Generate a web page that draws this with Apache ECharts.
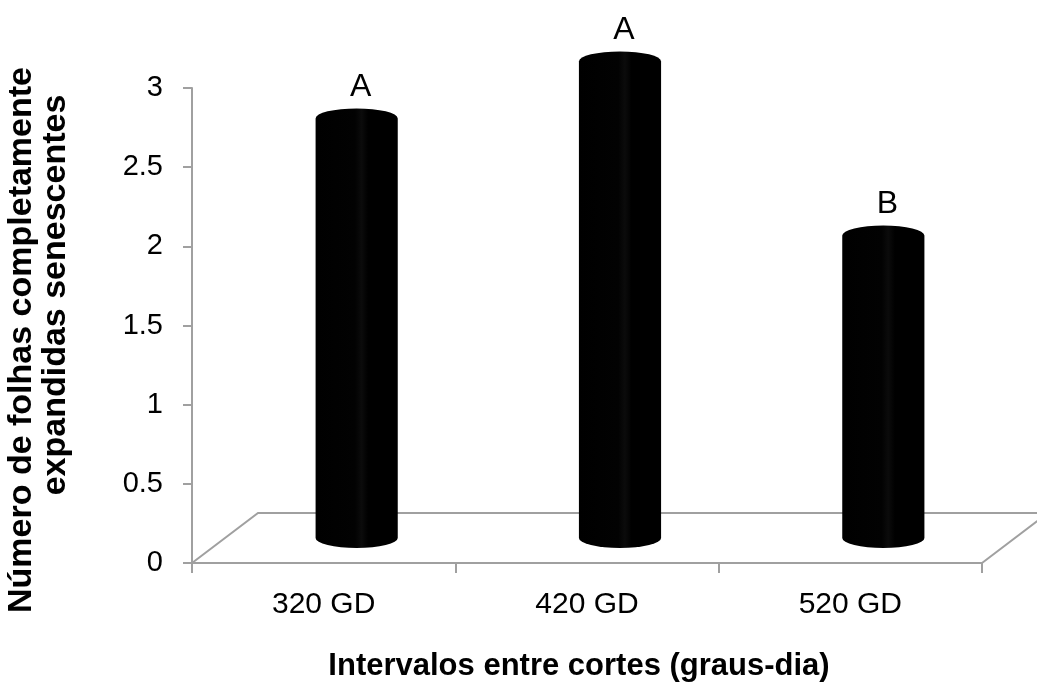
<!DOCTYPE html>
<html>
<head>
<meta charset="utf-8">
<script src="https://cdn.jsdelivr.net/npm/echarts@6/dist/echarts.min.js"></script>
<style>
html,body{margin:0;padding:0;background:#fff;}
#chart{width:1037px;height:684px;}
</style>
</head>
<body>
<div id="chart"></div>
<script>
// ---- data ----
const categories = ['320 GD', '420 GD', '520 GD'];
const values = [2.65, 3.01, 1.91];
const letters = ['A', 'A', 'B'];
const yTicks = [0, 0.5, 1, 1.5, 2, 2.5, 3];
const xTitle = 'Intervalos entre cortes (graus-dia)';
const yTitleLines = ['Número de folhas completamente', 'expandidas senescentes'];

// ---- style constants ----
const FONT = '"Liberation Sans", Arial, sans-serif';
const AXIS_COLOR = '#a0a0a0';
const DEPTH_X = 66, DEPTH_Y = -50; // oblique depth of the 3D floor (pixels)

const chart = echarts.init(document.getElementById('chart'), null, {renderer: 'canvas'});

function renderItem(params, api) {
  const idx = api.value(0);
  const v = api.value(1);
  const base = api.coord([idx, 0]);
  const top = api.coord([idx, v]);
  const band = api.size([1, 0])[0];
  const cx = base[0] + DEPTH_X / 2;
  const by = base[1] + DEPTH_Y / 2;
  const ty = top[1] + DEPTH_Y / 2;
  const rx = band * 0.156;
  const ry = 10;
  const children = [];
  if (params.dataIndex === 0) {
    const fl = base[0] - band / 2;
    const fr = fl + band * categories.length;
    children.push({
      type: 'polyline',
      shape: {points: [[fl, base[1]], [fl + DEPTH_X, base[1] + DEPTH_Y], [fr + DEPTH_X, base[1] + DEPTH_Y], [fr, base[1]]]},
      style: {stroke: AXIS_COLOR, lineWidth: 2, fill: null}
    });
  }
  const x1 = cx - rx, x2 = cx + rx;
  const d = 'M' + x1 + ' ' + ty +
    ' A' + rx + ' ' + ry + ' 0 0 1 ' + x2 + ' ' + ty +
    ' L' + x2 + ' ' + by +
    ' A' + rx + ' ' + ry + ' 0 0 1 ' + x1 + ' ' + by + ' Z';
  children.push({
    type: 'path',
    shape: {pathData: d},
    style: {
      fill: new echarts.graphic.LinearGradient(0, 0, 1, 0, [
        {offset: 0, color: '#000'},
        {offset: 0.48, color: '#020202'},
        {offset: 0.56, color: '#0b0b0b'},
        {offset: 0.64, color: '#000'},
        {offset: 1, color: '#000'}
      ]),
      stroke: null
    }
  });
  children.push({
    type: 'text',
    x: cx + 4,
    y: ty - ry - 5,
    style: {text: letters[params.dataIndex], font: '32px ' + FONT, fill: '#000', align: 'center', verticalAlign: 'bottom'}
  });
  return {type: 'group', children: children};
}

const option = {
  backgroundColor: '#fff',
  animation: false,
  grid: {left: 192, right: 55, top: 88, bottom: 121, containLabel: false},
  xAxis: {
    type: 'category',
    data: categories,
    axisLine: {show: true, lineStyle: {color: AXIS_COLOR, width: 2}},
    axisTick: {show: true, length: 10, lineStyle: {color: AXIS_COLOR, width: 2}},
    axisLabel: {color: '#000', fontFamily: FONT, fontSize: 30, margin: 27}
  },
  yAxis: {
    type: 'value',
    min: yTicks[0],
    max: yTicks[yTicks.length - 1],
    interval: 0.5,
    axisLine: {show: true, lineStyle: {color: AXIS_COLOR, width: 2}},
    axisTick: {show: true, length: 9, lineStyle: {color: AXIS_COLOR, width: 2}},
    splitLine: {show: false},
    axisLabel: {color: '#000', fontFamily: FONT, fontSize: 29, margin: 29}
  },
  graphic: [
    {type: 'text', x: 579, y: 666, style: {text: xTitle, font: 'bold 31px ' + FONT, fill: '#000', align: 'center', verticalAlign: 'middle'}},
    {type: 'text', x: 22, y: 340, rotation: Math.PI / 2, style: {text: yTitleLines[0], font: 'bold 34px ' + FONT, fill: '#000', align: 'center', verticalAlign: 'middle'}},
    {type: 'text', x: 56, y: 295, rotation: Math.PI / 2, style: {text: yTitleLines[1], font: 'bold 34px ' + FONT, fill: '#000', align: 'center', verticalAlign: 'middle'}}
  ],
  series: [{
    type: 'custom',
    renderItem: renderItem,
    clip: false,
    data: categories.map((c, i) => [i, values[i]])
  }]
};
chart.setOption(option);
</script>
</body>
</html>
